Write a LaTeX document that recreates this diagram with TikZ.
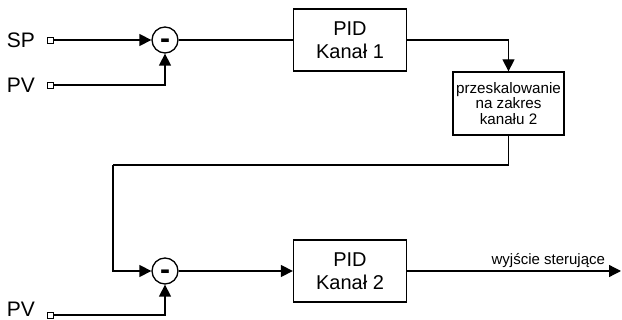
\documentclass[tikz,border=0pt]{standalone}
\usepackage{fontspec}
\setmainfont{Liberation Sans}
\usetikzlibrary{arrows.meta}
\tikzset{
  sig/.style={line width=1.3pt, -{Triangle[length=12pt,width=12pt]}},
  wire/.style={line width=1.3pt},
  blok/.style={draw, line width=1.3pt, minimum width=113pt, minimum height=62pt,
    align=center, font=\fontsize{20}{23}\selectfont},
  skala/.style={draw, line width=1.3pt, minimum width=111pt, minimum height=63pt,
    align=center, inner sep=1pt, font=\fontsize{15.2}{15.3}\selectfont},
  suma/.style={draw, circle, line width=1.3pt, minimum size=26pt, inner sep=0pt,
    text height=17pt, text depth=0pt, font=\fontsize{30}{30}\bfseries},
  zacisk/.style={draw, fill=white, line width=0.9pt, minimum size=6pt, inner sep=0pt},
  etyk/.style={inner sep=1pt, font=\fontsize{21}{21}\selectfont}
}
\begin{document}
\begin{tikzpicture}[x=1pt,y=-1pt]
\useasboundingbox (0,0) rectangle (622,320);

   \node[etyk] at (21,40) (spl) {SP};
   \node[etyk] at (21,85) (pvl1) {PV};
   \node[etyk] at (21,309) (pvl2) {PV};
   \node[zacisk] at (50,40) (sp) {};
   \node[zacisk] at (50,85) (pv1) {};
   \node[zacisk] at (50,315) (pv2) {};

   \node[suma] at (165,40) (sum1) {-};
   \node[suma] at (165,271) (sum2) {-};

   \node[blok] at (350,40) (pid1) {PID\\Kana\l{} 1};
   \node[blok] at (350,271) (pid2) {PID\\Kana\l{} 2};
   \node[skala] at (508.5,103.5) (scale) {przeskalowanie\\na zakres\\kana\l{}u 2};

   \coordinate (bend) at (113,165);
   \coordinate (out) at (621,271);

    % first loop
    \draw[sig] (sp) -- (sum1);
    \draw[sig] (pv1) -| (sum1);
    \draw[wire] (sum1) -- (pid1);
    \draw[sig] (pid1) -| (scale);

    % second loop
    \draw[wire] (scale) |- (bend);
    \draw[sig] (bend) |- (sum2);
    \draw[sig] (pv2) -| (sum2);
    \draw[sig] (sum2) -- (pid2);
    \draw[sig] (pid2) -- (out) node[pos=0.66,above,inner sep=3pt,
      font=\fontsize{15}{15}\selectfont] {wyjście sterujące};

\end{tikzpicture}
\end{document}
